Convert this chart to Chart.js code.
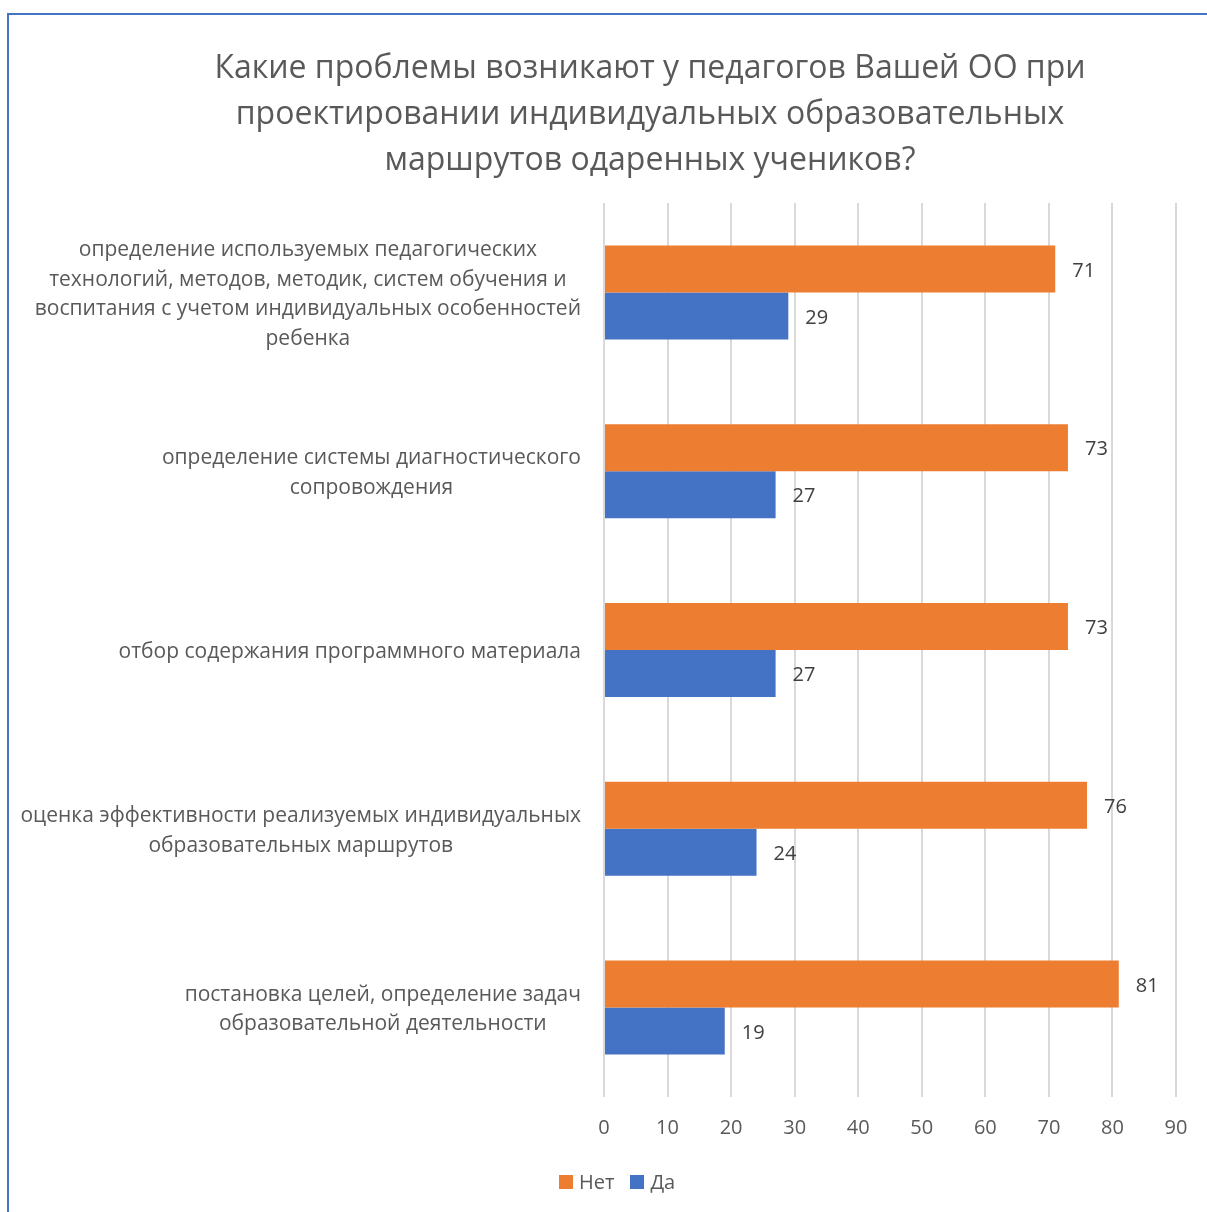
<!DOCTYPE html>
<html lang="ru">
<head>
<meta charset="utf-8">
<title>Проблемы при проектировании ИОМ</title>
<script src="https://cdn.jsdelivr.net/npm/chart.js@4.4.1/dist/chart.umd.min.js"></script>
<style>
  html, body { margin: 0; padding: 0; background: #fff; overflow: hidden; }
  body { width: 1207px; height: 1212px; position: relative; font-family: 'Open Sans', sans-serif; }
  #frame {
    position: absolute; left: 7px; top: 13px; width: 2000px; height: 2000px;
    border-left: 2px solid #4472C4; border-top: 2px solid #4472C4;
  }
  #wrap { position: absolute; left: 9px; top: 15px; width: 1282px; height: 1197px; }
  #legend {
    position: absolute; left: 559px; top: 1168px; display: flex; align-items: center;
    font-size: 20px; color: #595959; line-height: 28px;
  }
  #legend span.box { display: inline-block; width: 14px; height: 14px; margin-right: 6px; }
  #legend span.item { display: inline-flex; align-items: center; margin-right: 16px; }
</style>
</head>
<body>
<div id="frame"></div>
<div id="wrap"><canvas id="chart"></canvas></div>
<div id="legend"></div>
<script>
const titleLines = [
    'Какие проблемы возникают у педагогов Вашей ОО при',
    'проектировании индивидуальных образовательных',
    'маршрутов одаренных учеников?',
];

const categories = [
    ['определение используемых педагогических', 'технологий, методов, методик, систем обучения и', 'воспитания с учетом индивидуальных особенностей', 'ребенка'],
    ['определение системы диагностического', 'сопровождения'],
    ['отбор содержания программного материала'],
    ['оценка эффективности реализуемых индивидуальных', 'образовательных маршрутов'],
    ['постановка целей, определение задач', 'образовательной деятельности'],
];

const seriesNames = ['Нет', 'Да'];
const netValues = [71, 73, 73, 76, 81];
const daValues = [29, 27, 27, 24, 19];
const xTicks = [0, 10, 20, 30, 40, 50, 60, 70, 80, 90];

const colors = ['#ED7D31', '#4472C4'];
const fontFamily = "'Open Sans', sans-serif";
Chart.defaults.font.family = fontFamily;

// category labels: block right-aligned, lines centred inside the block (like Excel)
const categoryLabels = {
    id: 'categoryLabels',
    afterDraw(chart) {
        const ctx = chart.ctx;
        const y = chart.scales.y;
        const lh = 29.5;
        ctx.save();
        ctx.font = '21px ' + fontFamily;
        ctx.fillStyle = '#595959';
        ctx.textAlign = 'center';
        ctx.textBaseline = 'middle';
        categories.forEach((lines, i) => {
            const cy = y.getPixelForTick(i) + 2;
            const maxW = Math.max(...lines.map((l) => ctx.measureText(l).width));
            const cx = chart.chartArea.left - 23 - maxW / 2;
            lines.forEach((l, j) => {
                ctx.fillText(l, cx, cy + (j - (lines.length - 1) / 2) * lh);
            });
        });
        ctx.restore();
    },
};

const valueLabels = {
    id: 'valueLabels',
    afterDatasetsDraw(chart) {
        const ctx = chart.ctx;
        ctx.save();
        ctx.font = '20px ' + fontFamily;
        ctx.fillStyle = '#404040';
        ctx.textAlign = 'left';
        ctx.textBaseline = 'middle';
        chart.data.datasets.forEach((ds, di) => {
            chart.getDatasetMeta(di).data.forEach((bar, i) => {
                ctx.fillText(String(ds.data[i]), bar.x + 17, bar.y + 2);
            });
        });
        ctx.restore();
    },
};

new Chart(document.getElementById('chart'), {
    type: 'bar',
    data: {
        labels: categories,
        datasets: [
            { label: seriesNames[0], data: netValues, backgroundColor: colors[0] },
            { label: seriesNames[1], data: daValues, backgroundColor: colors[1] },
        ],
    },
    options: {
        indexAxis: 'y',
        responsive: true,
        maintainAspectRatio: false,
        animation: false,
        categoryPercentage: 0.526,
        barPercentage: 1.0,
        layout: { padding: { left: 115, right: 115, top: 0, bottom: 53 } },
        plugins: {
            legend: { display: false },
            tooltip: { enabled: false },
            title: {
                display: true,
                text: titleLines,
                color: '#595959',
                font: { size: 32, weight: 'normal', lineHeight: '46px' },
                padding: { top: 31, bottom: 19 },
            },
        },
        scales: {
            x: {
                min: 0,
                max: 90,
                afterBuildTicks(scale) {
                    scale.ticks = xTicks.map((v) => ({ value: v }));
                },
                grid: { color: '#d9d9d9', lineWidth: 2, drawTicks: false },
                border: { display: false },
                ticks: { color: '#595959', font: { size: 20 }, padding: 19 },
            },
            y: {
                grid: { display: false, drawTicks: false },
                border: { display: false },
                ticks: { color: 'rgba(0,0,0,0)', font: { size: 20 } },
                afterFit(scale) {
                    scale.width = 480;
                },
            },
        },
    },
    plugins: [categoryLabels, valueLabels],
});

const legend = document.getElementById('legend');
seriesNames.forEach((name, i) => {
    const item = document.createElement('span');
    item.className = 'item';
    const box = document.createElement('span');
    box.className = 'box';
    box.style.background = colors[i];
    item.appendChild(box);
    item.appendChild(document.createTextNode(name));
    legend.appendChild(item);
});
</script>
</body>
</html>
